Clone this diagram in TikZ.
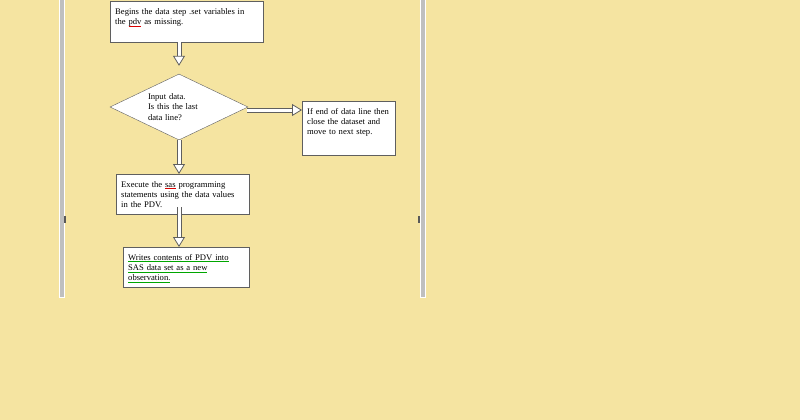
\documentclass[tikz,border=0pt]{standalone}
\usepackage{fontspec}
\setmainfont{Liberation Serif}
\usetikzlibrary{shapes.geometric,arrows.meta,calc}
\definecolor{bgyellow}{RGB}{245,228,161}
\definecolor{linegray}{RGB}{95,95,95}
\newcommand{\markline}[2]{\leavevmode\setbox0\hbox{#2}\rlap{\color{#1}\vrule height -1.2pt depth 1.8pt width \wd0}\box0\relax}
\newcommand{\spellul}[1]{\markline{red!85!black}{#1}}
\newcommand{\gramul}[1]{\markline{green!65!black}{#1}}
\newcommand{\flowarrow}[2]{%
  \draw[arrowshaft] (#1) -- ($(#2)!8pt!(#1)$);
  \draw[arrowhead] ($(#2)!10pt!(#1)$) -- (#2);}
\tikzset{
  stepbox/.style={draw=linegray, fill=white, anchor=north west, align=left,
    inner sep=5pt, text height=8pt, font=\fontsize{8.6}{10.2}\selectfont},
  decision/.style={diamond, aspect=2.1, draw=linegray, fill=white, inner sep=0pt,
    minimum width=138pt, minimum height=66pt, text width=62pt, align=left,
    font=\fontsize{8.6}{10.2}\selectfont},
  arrowshaft/.style={draw=linegray, line width=5pt, postaction={draw=white, line width=3pt}},
  arrowhead/.style={draw=linegray, line width=0.8pt, -{Triangle[fill=white, length=10pt, width=12pt]}},
  bar/.style={fill=gray!50, draw=white, line width=0.6pt}
}
\begin{document}
\begin{tikzpicture}[x=1pt,y=-1pt]
\fill[bgyellow] (0,0) rectangle (800,420);
\useasboundingbox (0,0) rectangle (800,420);
% page edges
\filldraw[bar] (59,-1) rectangle (64,297);
\filldraw[bar] (420,-1) rectangle (425,297);
\fill[gray!70!black] (64,216) rectangle (66,223);
\fill[gray!70!black] (418,216) rectangle (420,223);
% steps
\node[stepbox, text width=143pt, text depth=23pt] (begin) at (110,1)
  {Begins the data step .set variables in\\ the \spellul{pdv} as missing.};
\node[decision] (dia) at (179,107) {Input data.\\ Is this the last\\ data line?};
\node[stepbox, text width=83pt, text depth=36pt] (close) at (302,101)
  {If end of data line then\\ close the dataset and\\ move to next step.};
\node[stepbox, text width=123pt, text depth=22pt] (exec) at (116,174)
  {Execute the \spellul{sas} programming\\ statements using the data values\\ in the PDV.};
\node[stepbox, text width=116pt, text depth=22pt] (write) at (123,247)
  {\gramul{Writes contents of PDV into}\\ \gramul{SAS data set as a new}\\ \gramul{observation.}};
% connectors
\coordinate (a1s) at (begin.south -| dia.north);
\coordinate (a1e) at ($(dia.north)+(0,-8)$);
\coordinate (a2s) at ($(dia.east)+(-1,3)$);
\coordinate (a2e) at (a2s -| close.west);
\coordinate (a3e) at (dia.south |- exec.north);
\coordinate (a4s) at ($(dia.south |- exec.south)+(0,-7)$);
\coordinate (a4e) at (dia.south |- write.north);
\flowarrow{a1s}{a1e}
\flowarrow{a2s}{a2e}
\flowarrow{dia.south}{a3e}
\flowarrow{a4s}{a4e}
\end{tikzpicture}
\end{document}
